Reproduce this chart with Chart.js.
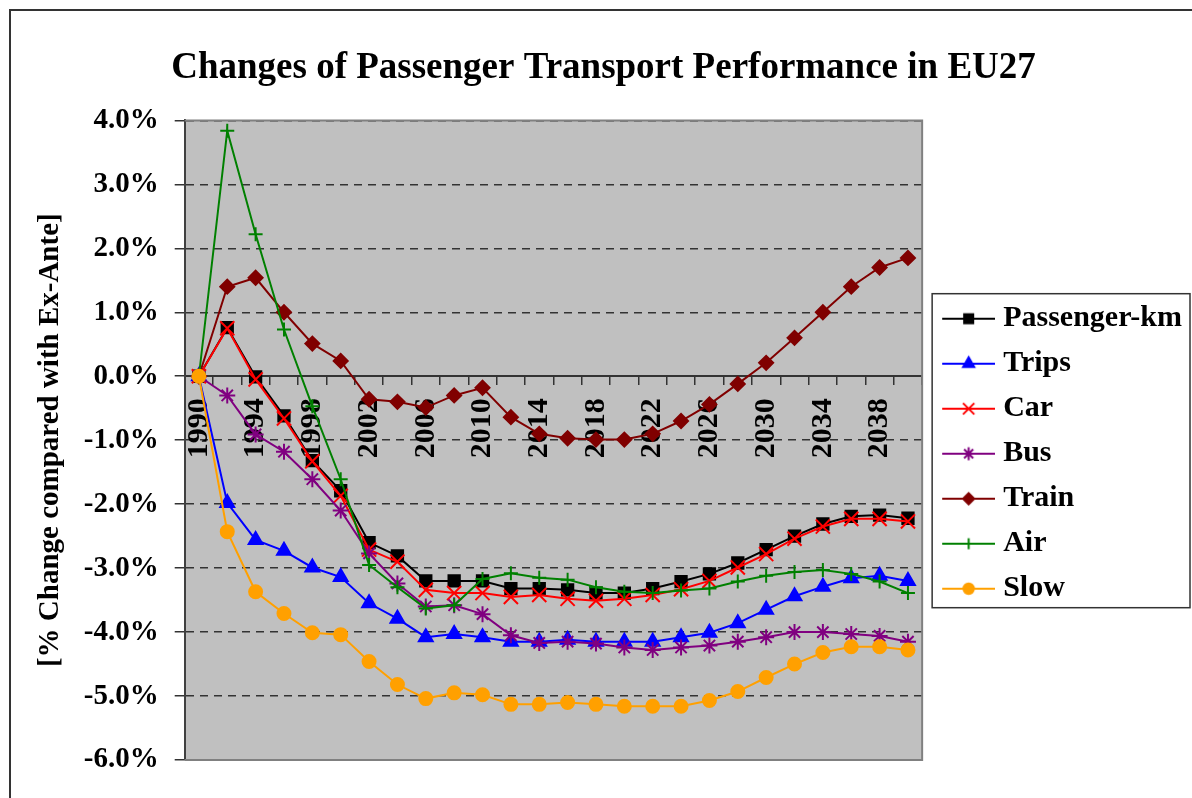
<!DOCTYPE html>
<html>
<head>
<meta charset="utf-8">
<script src="https://cdn.jsdelivr.net/npm/chart.js@4/dist/chart.umd.min.js"></script>
<style>
  html, body { margin: 0; padding: 0; background: #fff; overflow: hidden; }
  #wrap { position: relative; width: 1192px; height: 798px; overflow: hidden; }
  #chart { position: absolute; left: 0; top: 0; }
  #frame { position: absolute; left: 9px; top: 9px; width: 2000px; height: 2000px;
           border-left: 2px solid #333; border-top: 2px solid #333; pointer-events: none; }
</style>
</head>
<body>
<div id="wrap">
  <canvas id="chart" width="1192" height="798"></canvas>
  <div id="frame"></div>
</div>
<script>
const years = ["1990", "1992", "1994", "1996", "1998", "2000", "2002", "2004", "2006", "2008",
  "2010", "2012", "2014", "2016", "2018", "2020", "2022", "2024", "2026", "2028",
  "2030", "2032", "2034", "2036", "2038", "2040"];

const passengerKm = [0, 0.76, -0.01, -0.62, -1.32, -1.79, -2.60, -2.81, -3.20, -3.20, -3.20, -3.32, -3.32,
  -3.34, -3.39, -3.39, -3.32, -3.21, -3.09, -2.92, -2.71, -2.50, -2.31, -2.19, -2.17, -2.22];
const trips = [0, -1.98, -2.56, -2.73, -2.99, -3.14, -3.55, -3.79, -4.08, -4.03, -4.08, -4.15, -4.15,
  -4.12, -4.15, -4.15, -4.15, -4.08, -4.01, -3.86, -3.65, -3.44, -3.29, -3.16, -3.12, -3.20];
const car = [0, 0.75, -0.05, -0.66, -1.33, -1.87, -2.71, -2.90, -3.34, -3.39, -3.39, -3.45, -3.42,
  -3.48, -3.51, -3.48, -3.42, -3.33, -3.20, -2.99, -2.78, -2.54, -2.35, -2.23, -2.23, -2.27];
const bus = [0, -0.30, -0.91, -1.18, -1.61, -2.10, -2.77, -3.24, -3.60, -3.58, -3.72, -4.05, -4.17,
  -4.15, -4.18, -4.24, -4.28, -4.24, -4.21, -4.15, -4.08, -4.00, -4.00, -4.03, -4.06, -4.15];
const train = [0, 1.40, 1.54, 1.00, 0.51, 0.24, -0.36, -0.40, -0.49, -0.30, -0.18, -0.64, -0.90,
  -0.97, -0.99, -0.99, -0.90, -0.70, -0.44, -0.12, 0.21, 0.60, 1.00, 1.40, 1.70, 1.85];
const air = [0, 3.84, 2.22, 0.73, -0.47, -1.61, -2.95, -3.30, -3.63, -3.58, -3.17, -3.08, -3.15,
  -3.18, -3.30, -3.37, -3.39, -3.35, -3.32, -3.21, -3.12, -3.06, -3.03, -3.09, -3.21, -3.39];
const slow = [0, -2.43, -3.37, -3.71, -4.01, -4.04, -4.46, -4.82, -5.04, -4.95, -4.98, -5.13, -5.13,
  -5.10, -5.13, -5.16, -5.16, -5.16, -5.07, -4.93, -4.71, -4.50, -4.32, -4.23, -4.23, -4.28];

const FONT = '"Liberation Serif", "Times New Roman", serif';

// name, data, colour, marker, radius, draw order (lower = on top)
const seriesDefs = [
  ["Passenger-km", passengerKm, "#000000", "rect", 8, 6],
  ["Trips", trips, "#0000ff", "triangle", 8, 5],
  ["Car", car, "#ff0000", "crossRot", 10, 4],
  ["Bus", bus, "#800080", "star", 8, 3],
  ["Train", train, "#800000", "rectRot", 7, 2],
  ["Air", air, "#008000", "cross", 7, 1],
  ["Slow", slow, "#ffa000", "circle", 6.5, 0]
];

const datasets = seriesDefs.map(([name, data, color, style, r, order]) => ({
  label: name,
  data: data,
  borderColor: color,
  backgroundColor: color,
  borderWidth: 2,
  pointStyle: style,
  pointRadius: r,
  pointHoverRadius: r,
  pointBorderWidth: 2,
  pointBackgroundColor: color,
  pointBorderColor: color,
  tension: 0,
  order: order
}));

/* legend swatch: line with the marker, transparent margin on the left */
function makeSwatch(color, style, r) {
  const c = document.createElement("canvas");
  c.width = 65;
  c.height = 20;
  const g = c.getContext("2d");
  g.strokeStyle = color;
  g.fillStyle = color;
  g.lineWidth = 2;
  g.beginPath();
  g.moveTo(12, 10);
  g.lineTo(65, 10);
  g.stroke();
  if (Chart.helpers && Chart.helpers.drawPoint) {
    Chart.helpers.drawPoint(g, { pointStyle: style, radius: r * 0.8, borderWidth: 2, rotation: 0 }, 38.5, 10);
  }
  return c;
}

const plotDecor = {
  id: "plotDecor",
  beforeDraw(chart) {
    const { ctx, chartArea: a } = chart;
    ctx.save();
    ctx.fillStyle = "#ffffff";
    ctx.fillRect(0, 0, chart.width, chart.height);
    ctx.fillStyle = "#c0c0c0";
    ctx.fillRect(a.left, a.top, a.right - a.left, a.bottom - a.top);
    ctx.restore();
  },
  beforeDatasetsDraw(chart) {
    const { ctx, chartArea: a } = chart;
    ctx.save();
    ctx.strokeStyle = "#808080";
    ctx.lineWidth = 2;
    ctx.beginPath();
    ctx.moveTo(a.left, a.top);
    ctx.lineTo(a.right, a.top);
    ctx.lineTo(a.right, a.bottom);
    ctx.lineTo(a.left, a.bottom);
    ctx.stroke();
    ctx.restore();
  },
  afterDraw(chart) {
    const hb = chart.legend.legendHitBoxes;
    if (!hb || !hb.length) return;
    const first = hb[0], last = hb[hb.length - 1];
    const ctx = chart.ctx;
    ctx.save();
    ctx.strokeStyle = "#333";
    ctx.lineWidth = 1.5;
    const x0 = first.left - 5, y0 = first.top - 10;
    ctx.strokeRect(x0, y0, 1190 - x0, last.top + last.height + 4 - y0);
    ctx.restore();
  }
};

new Chart(document.getElementById("chart"), {
  type: "line",
  data: { labels: years, datasets: datasets },
  options: {
    responsive: false,
    animation: false,
    layout: { padding: { top: 10, left: 15, right: 0, bottom: 38 } },
    plugins: {
      title: {
        display: true,
        text: "Changes of Passenger Transport Performance in EU27",
        color: "#000",
        font: { family: FONT, size: 37, weight: "bold" },
        padding: { top: 36, bottom: 30 }
      },
      legend: {
        position: "right",
        fullSize: false,
        title: { display: true, text: " ", font: { size: 10 }, padding: { top: 0, bottom: 15 } },
        labels: {
          usePointStyle: true,
          pointStyleWidth: 51,
          padding: 15,
          color: "#000",
          font: { family: FONT, size: 30, weight: "bold" },
          generateLabels: (chart) => seriesDefs.map(([name, , color, style, r], i) => ({
            text: name,
            pointStyle: makeSwatch(color, style, r),
            fillStyle: color,
            strokeStyle: color,
            lineWidth: 0,
            fontColor: "#000",
            hidden: false,
            datasetIndex: i
          }))
        }
      },
      tooltip: { enabled: false }
    },
    scales: {
      x: {
        type: "category",
        position: { y: 0 },
        offset: true,
        grid: { drawOnChartArea: false, offset: true, tickLength: 8, color: "#333", lineWidth: 1.5 },
        border: { color: "#333", width: 2 },
        ticks: {
          autoSkip: false,
          minRotation: 90,
          maxRotation: 90,
          padding: 14,
          color: "#000",
          font: { family: FONT, size: 30, weight: "bold" },
          callback: function (v, i) { return i % 2 === 0 ? this.getLabelForValue(v) : ""; }
        }
      },
      y: {
        min: -6,
        max: 4,
        position: "left",
        grid: { color: "#333", lineWidth: 1.5, tickLength: 10 },
        border: { color: "#404040", width: 2, dash: [8, 6] },
        ticks: {
          stepSize: 1,
          padding: 16,
          color: "#000",
          font: { family: FONT, size: 29, weight: "bold" },
          callback: (v) => v.toFixed(1) + "%"
        },
        title: {
          display: true,
          text: "[% Change compared with Ex-Ante]",
          color: "#000",
          font: { family: FONT, size: 29, weight: "bold" },
          padding: { top: 18, bottom: 0 }
        }
      }
    }
  },
  plugins: [plotDecor]
});
</script>
</body>
</html>
